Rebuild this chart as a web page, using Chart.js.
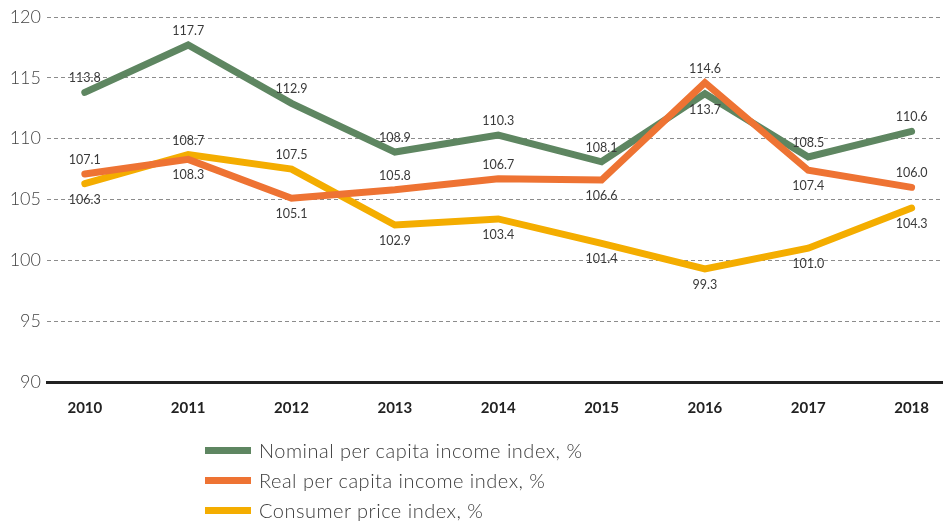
<!DOCTYPE html>
<html>
<head>
<meta charset="utf-8">
<script src="https://cdn.jsdelivr.net/npm/chart.js@4.4.1/dist/chart.umd.min.js"></script>
<style>
  html, body { margin: 0; padding: 0; background: #ffffff; }
  #wrap { position: relative; width: 946px; height: 522px; }
  #chart { position: absolute; left: 0; top: 0; }
  #legend { position: absolute; left: 205px; top: 435px; font-family: Lato, "Open Sans", sans-serif; font-weight: 300; font-size: 20px; letter-spacing: 0.5px; color: #3c3c3c; }
  .row { display: flex; align-items: center; height: 30px; }
  .swatch { width: 46px; height: 7px; margin-right: 8px; }
</style>
</head>
<body>
<div id="wrap">
  <canvas id="chart" width="946" height="522"></canvas>
  <div id="legend"></div>
</div>
<script>
// Income and price indices, previous year = 100
const years = [2010, 2011, 2012, 2013, 2014, 2015, 2016, 2017, 2018];
const nominalIncome = [113.8, 117.7, 112.9, 108.9, 110.3, 108.1, 113.7, 108.5, 110.6];
const realIncome = [107.1, 108.3, 105.1, 105.8, 106.7, 106.6, 114.6, 107.4, 106.0];
const consumerPrices = [106.3, 108.7, 107.5, 102.9, 103.4, 101.4, 99.3, 101.0, 104.3];
const seriesNames = [
  'Nominal per capita income index, %',
  'Real per capita income index, %',
  'Consumer price index, %'
];
const yMin = 90, yMax = 120, yStep = 5;

// where each value label sits relative to its point
const labelSide = [
  ['above', 'above', 'above', 'above', 'above', 'above', 'below', 'above', 'above'],
  ['above', 'below', 'below', 'above', 'above', 'below', 'above', 'below', 'above'],
  ['below', 'above', 'above', 'below', 'below', 'below', 'below', 'below', 'below']
];

const colors = ['#5e8661', '#ee7333', '#f4ad00'];
const toPoints = vals => vals.map((v, i) => ({ x: years[i], y: v }));

const valueLabels = {
  id: 'valueLabels',
  afterDatasetsDraw(chart) {
    const ctx = chart.ctx;
    ctx.save();
    ctx.font = '400 12.5px Lato, "Open Sans", sans-serif';
    ctx.fillStyle = '#3a3a3a';
    ctx.textAlign = 'center';
    ctx.textBaseline = 'middle';
    chart.data.datasets.forEach((ds, di) => {
      const meta = chart.getDatasetMeta(di);
      meta.data.forEach((pt, j) => {
        const side = labelSide[di][j];
        const dy = side === 'above' ? -14 : 16;
        ctx.fillText(ds.data[j].y.toFixed(1), pt.x, pt.y + dy);
      });
    });
    ctx.restore();
  }
};

const datasets = [nominalIncome, realIncome, consumerPrices].map((vals, i) => ({
  label: seriesNames[i],
  data: toPoints(vals),
  borderColor: colors[i],
  backgroundColor: colors[i],
  borderWidth: 7,
  borderCapStyle: 'round',
  borderJoinStyle: 'miter',
  pointRadius: 0,
  tension: 0,
  order: [2, 1, 3][i]
}));

const chart = new Chart(document.getElementById('chart'), {
  type: 'line',
  data: { datasets },
  options: {
    responsive: false,
    animation: false,
    layout: { padding: { left: 0, right: 0, top: 17, bottom: 88 } },
    plugins: { legend: { display: false }, tooltip: { enabled: false } },
    scales: {
      x: {
        type: 'linear',
        min: 2009.634,
        max: 2018.299,
        grid: { display: false, drawTicks: false },
        border: { display: true, color: '#222222', width: 3 },
        ticks: {
          stepSize: 1,
          includeBounds: false,
          padding: 17,
          color: '#222222',
          font: { family: 'Lato, "Open Sans", sans-serif', weight: 'bold', size: 15 },
          callback: v => (Number.isInteger(v) && v >= years[0] && v <= years[years.length - 1]) ? String(v) : ''
        }
      },
      y: {
        min: yMin,
        max: yMax,
        afterFit: s => { s.width = 47; },
        grid: { color: '#8c8c8c', lineWidth: 1, drawTicks: false },
        border: { display: true, width: 0, dash: [4, 3] },
        ticks: {
          stepSize: yStep,
          padding: 6,
          color: '#444444',
          font: { family: 'Lato, "Open Sans", sans-serif', weight: '300', size: 18 }
        }
      }
    }
  },
  plugins: [valueLabels]
});

// legend list under the plot
const legend = document.getElementById('legend');
chart.data.datasets.forEach(ds => {
  const row = document.createElement('div');
  row.className = 'row';
  const sw = document.createElement('div');
  sw.className = 'swatch';
  sw.style.background = ds.borderColor;
  const txt = document.createElement('span');
  txt.textContent = ds.label;
  row.appendChild(sw);
  row.appendChild(txt);
  legend.appendChild(row);
});
</script>
</body>
</html>
